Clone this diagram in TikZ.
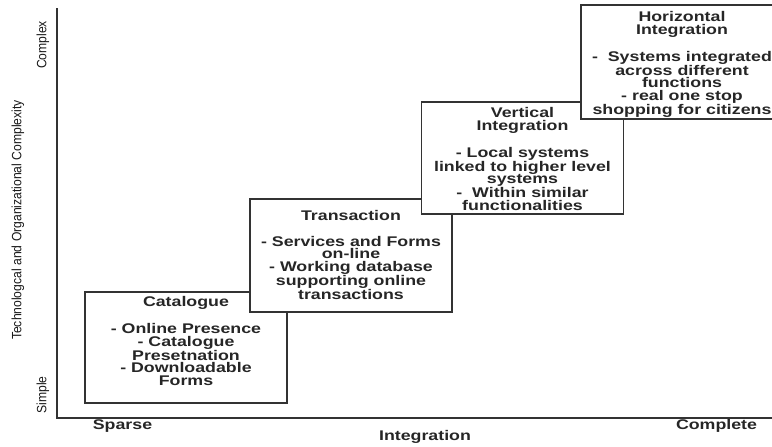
\documentclass[tikz,border=0pt]{standalone}
\usepackage{fontspec}
\setmainfont[FakeStretch=1.27]{Liberation Sans}
\newfontfamily\narrowfont[FakeStretch=0.9]{Liberation Sans}
\usetikzlibrary{positioning}

\tikzset{
  stage/.style={draw=black!80, line width=1.4pt, fill=white,
    minimum width=202pt, minimum height=112pt, inner sep=0pt},
  stagetext/.style={align=center, inner sep=0pt, text=black!85,
    font=\bfseries\fontsize{14}{12.7}\selectfont},
  axislabel/.style={inner sep=0pt, text=black!85, font=\bfseries\fontsize{14}{14}\selectfont},
  sidelabel/.style={inner sep=0pt, rotate=90, text=black!90,
    font=\narrowfont\fontsize{13.5}{14}\selectfont}
}

\begin{document}
\begin{tikzpicture}[x=1pt,y=-1pt]
  \useasboundingbox (0,0) rectangle (772,447);
  \clip (0,0) rectangle (772,447);

  % axes
  \coordinate (origin) at (57,418);
  \coordinate (ytop) at (57,8);
  \coordinate (xend) at (772,418);
  \draw[line width=1.4pt, black!80] (ytop) -- (origin) -- (xend);

  \node[sidelabel] (complex) at (43,45) {Complex};
  \node[sidelabel] (simple) at (43,395) {Simple};
  \node[sidelabel] (complexity) at (18,220) {Technologcal and Organizational Complexity};
  \node[axislabel] (sparse) at (122.5,426) {Sparse};
  \node[axislabel] (complete) at (716.5,426) {Complete};
  \node[axislabel] (integration) at (425,437) {Integration};

  % stages, each one over the one before
  \node[stage, minimum height=111pt] (catalogue) at (186,347.5) {};
  \node[stagetext, below=5pt of catalogue.north] (catalogueText)
    {Catalogue\\[12.7pt]- Online Presence\\- Catalogue\\Presetnation\\- Downloadable\\Forms};

  \node[stage, minimum height=113pt] (transaction) at (351,255.5) {};
  \node[stagetext, below=12pt of transaction.north] (transactionText)
    {Transaction\\[12.7pt]- Services and Forms\\on-line\\- Working database\\supporting online\\transactions};

  \node[stage] (vertical) at (522.5,158) {};
  \node[stagetext, below=6pt of vertical.north] (verticalText)
    {Vertical\\Integration\\[12.7pt]- Local systems\\linked to higher level\\systems\\-\ \ Within similar\\functionalities};

  \node[stage, minimum height=114pt] (horizontal) at (682,62) {};
  \node[stagetext, below=7pt of horizontal.north] (horizontalText)
    {Horizontal\\Integration\\[12.7pt]-\ \ Systems integrated\\across different\\functions\\- real one stop\\shopping for citizens};
\end{tikzpicture}
\end{document}
